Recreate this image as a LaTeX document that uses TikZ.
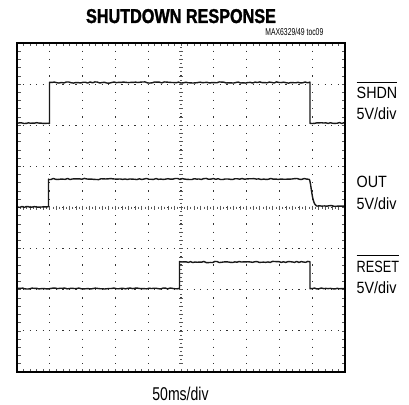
\documentclass[tikz,border=0pt]{standalone}
\usepackage{fontspec}
\setmainfont{Liberation Sans}
\newfontfamily\titlefont{Liberation Sans Bold}[FakeStretch=0.81,FakeBold=1.5]
\newfontfamily\smallfont{Liberation Sans}[FakeStretch=0.68]
\newfontfamily\labfont{Liberation Sans}[FakeStretch=0.88]
\newfontfamily\labfontn{Liberation Sans}[FakeStretch=0.78]
\newfontfamily\axfont{Liberation Sans}[FakeStretch=0.76]
\newcommand\ovl[1]{\leavevmode\vbox{\hrule height 0.8pt \kern 4.5pt \hbox{#1}}}
\tikzset{
  frame/.style={line width=2.8pt,draw=black},
  hgrid/.style={draw=black!80,line width=1.2pt,dash pattern=on 1.2pt off 5.36pt,dash phase=0.6pt},
  vgrid/.style={draw=black!80,line width=1.2pt,dash pattern=on 1.2pt off 7.025pt,dash phase=0.6pt},
  tick/.style={draw=black!65,line width=0.7pt},
  trace/.style={draw=black!90,line width=1.4pt,line join=round},
  lab/.style={font=\labfont\fontsize{16.3}{18}\selectfont,anchor=base west,inner sep=0pt},
}
\begin{document}
\begin{tikzpicture}[x=1pt,y=-1pt]
\useasboundingbox[fill=white] (0,0) rectangle (409,404);
\def\L{17}\def\R{345}\def\T{43}\def\B{372}
% grid lines
\foreach \i in {1,...,9}{
  \draw[vgrid] ({\L+\i*32.8},\T) -- ({\L+\i*32.8},\B);
}
\foreach \j in {1,...,7}{
  \draw[hgrid] (\L,{\T+\j*41.125}) -- (\R,{\T+\j*41.125});
}
% centre axes ticks
\foreach \k in {1,...,39}{
  \draw[tick] (179,{\T+\k*8.225}) -- (183,{\T+\k*8.225});
  \draw[tick] (180,{\T+\k*8.225-4.1}) -- (182,{\T+\k*8.225-4.1});
}
\foreach \k in {1,...,49}{
  \draw[tick] ({\L+\k*6.56},205.5) -- ({\L+\k*6.56},209.5);
  \draw[tick] ({\L+\k*6.56-3.28},206.5) -- ({\L+\k*6.56-3.28},208.5);
}
% border ticks
\foreach \k in {1,...,49}{
  \draw[tick] ({\L+\k*6.56},\T) -- ({\L+\k*6.56},{\T+3.5});
  \draw[tick] ({\L+\k*6.56},\B) -- ({\L+\k*6.56},{\B-3.5});
}
\foreach \k in {1,...,39}{
  \draw[tick] (\L,{\T+\k*8.225}) -- ({\L+3.5},{\T+\k*8.225});
  \draw[tick] (\R,{\T+\k*8.225}) -- ({\R-3.5},{\T+\k*8.225});
}
\pgfmathsetseed{7}
% SHDN trace
\draw[trace] (\L,123) -- plot[domain=18:49.5,samples=16] (\x,{123+0.5*rand})
  -- (49.5,82.5) -- plot[domain=49.5:310,samples=110] (\x,{82.5+0.6*rand})
  -- (310,123) -- plot[domain=310:344,samples=16] (\x,{123+0.5*rand});
% OUT trace
\draw[trace] (\L,207) -- plot[domain=18:48.5,samples=16] (\x,{207+0.5*rand})
  -- (48.5,179) -- plot[domain=48.5:309,samples=110] (\x,{179+0.6*rand})
  .. controls (311,179) and (311.5,203) .. (316,205.5)
  -- plot[domain=317:344,samples=12] (\x,{206+0.5*rand});
% RESET trace
\draw[trace] (\L,288.5) -- plot[domain=18:179.5,samples=70] (\x,{288.5+0.5*rand})
  -- (179.5,262) -- plot[domain=179.5:310,samples=60] (\x,{262+0.6*rand})
  -- (310,288.5) -- plot[domain=310:344,samples=16] (\x,{288.5+0.5*rand});
% frame
\draw[frame] (\L,\T) rectangle (\R,\B);
% texts
\node[font=\titlefont\fontsize{20}{22}\selectfont,anchor=base,inner sep=0pt] (title) at (181,23) {SHUTDOWN RESPONSE};
\node[font=\smallfont\fontsize{10}{11}\selectfont,anchor=base east,inner sep=0pt] (code) at (323.5,35.5) {MAX6329/49 toc09};
\node[lab] (l1) at (356.5,98.5) {\ovl{SHDN}};
\node[lab] (l2) at (356.5,119.5) {5V/div};
\node[lab] (l3) at (356.5,187.5) {OUT};
\node[lab] (l4) at (356.5,209.5) {5V/div};
\node[lab,font=\labfontn\fontsize{16.3}{18}\selectfont] (l5) at (356.5,272) {\ovl{RESET}};
\node[lab] (l6) at (356.5,293) {5V/div};
\node[font=\axfont\fontsize{18.5}{20}\selectfont,anchor=base,inner sep=0pt] (xl) at (180.5,400.5) {50ms/div};
\end{tikzpicture}
\end{document}
